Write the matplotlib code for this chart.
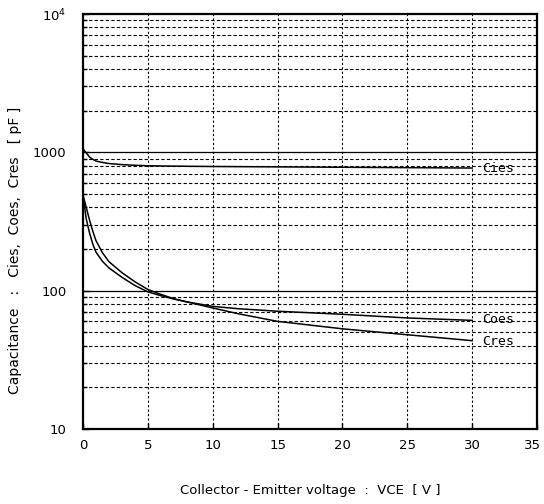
import matplotlib

matplotlib.use("Agg")
import matplotlib.pyplot as plt
from matplotlib.ticker import FixedLocator, NullFormatter
from matplotlib.transforms import ScaledTranslation

# Collector-emitter voltage [V]
vce = [0, 0.25, 0.5, 0.75, 1, 1.5, 2, 3, 4, 5, 6, 7, 8, 10, 12, 15, 20, 25, 30]

# capacitances [pF]
cies = [1060, 990, 925, 890, 865, 845, 830, 815, 806, 800, 797, 795, 793, 790,
        788, 785, 780, 775, 770]
coes = [490, 330, 262, 218, 190, 163, 146, 125, 109, 98, 92, 87, 83, 77,
        74, 71, 67.5, 63.5, 61]
cres = [490, 400, 325, 270, 230, 188, 162, 135, 116, 102, 94, 87.5, 83, 75,
        68, 60, 53, 48, 43.5]

series_names = ["Cies", "Coes", "Cres"]
series_label_y = [770, 62, 43]

x_ticks = [0, 5, 10, 15, 20, 25, 30, 35]
y_ticks = [10, 100, 1000, 10000]
y_tick_labels = ["10", "100", "1000", "$10^4$"]

plt.rcParams["font.family"] = ["DejaVu Sans"]

fig = plt.figure(figsize=(5.44, 5.04), dpi=100)
ax = fig.add_axes([83 / 544, 75 / 504, 454 / 544, 415 / 504])

for vals in (cies, coes, cres):
    ax.plot(vce, vals, color="black", lw=1.1, zorder=3)

ax.set_yscale("log")
ax.set_xlim(0, 35)
ax.set_ylim(10, 10000)

ax.xaxis.set_major_locator(FixedLocator(x_ticks))
ax.yaxis.set_major_locator(FixedLocator(y_ticks))
ax.set_yticklabels(y_tick_labels)
minor = [m * 10 ** d for d in range(1, 4) for m in range(2, 10)]
ax.yaxis.set_minor_locator(FixedLocator(minor))
ax.yaxis.set_minor_formatter(NullFormatter())

# grid: solid decades, dashed minor, dotted verticals
for y in (100, 1000):
    ax.axhline(y, color="black", lw=0.9, zorder=2)
for y in minor:
    ax.axhline(y, color="black", lw=0.8, ls=(0, (3, 2)), zorder=1)
for x in x_ticks[1:-1]:
    ax.axvline(x, color="black", lw=0.8, ls=(0, (2, 2)), zorder=1)

for sp in ax.spines.values():
    sp.set_linewidth(1.6)

ax.tick_params(axis="both", which="major", direction="in", length=4,
               labelsize=9.5, width=1)
ax.tick_params(axis="y", which="minor", direction="in", length=3, width=1)
ax.tick_params(axis="x", pad=7)
ax.tick_params(axis="y", pad=12)

# last x label sits right on the figure edge, pull it in a little
last = ax.get_xticklabels()[-1]
last.set_transform(last.get_transform()
                   + ScaledTranslation(-3 / 72, 0, fig.dpi_scale_trans))

for name, yv in zip(series_names, series_label_y):
    ax.text(30.8, yv, name, fontsize=9.5, family=["DejaVu Sans Mono"],
            va="center", ha="left", zorder=4)

ax.set_xlabel("Collector - Emitter voltage  :  VCE  [ V ]", fontsize=9.5,
              labelpad=23)
ax.set_ylabel("Capacitance   :   Cies,  Coes,  Cres   [ pF ]", fontsize=10)
ax.yaxis.set_label_coords(-0.134, 0.43)

fig.savefig("out.png", dpi=100, facecolor="white")
